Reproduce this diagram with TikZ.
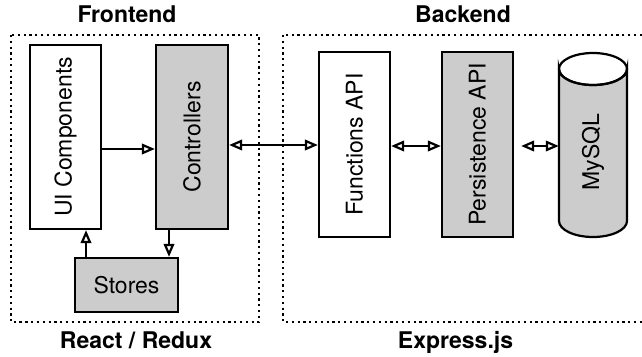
\documentclass[tikz,border=0pt]{standalone}
\usepackage{fontspec}
\usepackage{graphicx}
\setmainfont{TeX Gyre Heros}
\usetikzlibrary{arrows.meta}
\definecolor{boxgray}{HTML}{CCCCCC}
\begin{document}
\begin{tikzpicture}[x=1pt,y=-1pt,
  box/.style={draw, line width=2.2pt, inner sep=0pt, font=\fontsize{23}{27}\selectfont},
  vbox/.style={box, minimum width=71pt, minimum height=184pt},
  grayfill/.style={fill=boxgray},
  frame/.style={line width=2.2pt, dash pattern=on 2.2pt off 3.6pt},
  title/.style={font=\fontsize{23}{27}\selectfont\bfseries, anchor=base, inner sep=0pt},
  arr/.style={line width=2.2pt, -{Triangle[open,length=13pt,width=10.5pt]}},
  dbl/.style={line width=2.2pt, {Triangle[open,length=13pt,width=10.5pt]}-{Triangle[open,length=13pt,width=10.5pt]}}
]
\useasboundingbox (0,0) rectangle (642,356);

% frames
\draw[frame] (10.7,35) rectangle (259,322);
\draw[frame] (283,35) rectangle (680,322);

% titles
\node[title] (tfront) at (127,23) {Frontend};
\node[title] (tredux) at (136,348) {React / Redux};
\node[title] (tback) at (463,23) {Backend};
\node[title] (texpress) at (455.5,348) {Express.js};

% frontend nodes
\node[vbox] (ui) at (65.5,137) {\rotatebox{90}{UI Components}};
\node[vbox, grayfill, minimum width=72pt] (ctrl) at (192,137) {\rotatebox{90}{Controllers}};
\node[box, grayfill, minimum width=103pt, minimum height=54pt] (stores) at (126.5,285) {Stores};

% backend nodes
\node[vbox, minimum height=185pt] (func) at (354.5,144.5) {\rotatebox{90}{Functions API}};
\node[vbox, grayfill, minimum height=185pt] (pers) at (477.5,144.5) {\rotatebox{90}{Persistence API}};

% MySQL cylinder
\filldraw[fill=boxgray, line width=2.2pt]
  (559,69) -- (559,221) arc[start angle=180, end angle=0, x radius=34, y radius=16]
  -- (627,69) arc[start angle=0, end angle=180, x radius=34, y radius=16] -- cycle;
\draw[line width=2.2pt] (593,69) ellipse[x radius=34, y radius=16];
\node[inner sep=0pt, minimum width=68pt, minimum height=150pt, font=\fontsize{23}{27}\selectfont] (mysql) at (593,152) {\rotatebox{90}{MySQL}};

% connectors
\draw[arr] (ui.east |- 0,149) -- (ctrl.west |- 0,149);
\draw[arr] (169,0 |- ctrl.south) -- (169,0 |- stores.north);
\draw[arr] (86,0 |- stores.north) -- (86,0 |- ui.south);
\draw[dbl] (ctrl.east |- 0,145) -- (func.west |- 0,145);
\draw[dbl] (func.east |- 0,146) -- (pers.west |- 0,146);
\draw[dbl] ([xshift=7pt]pers.east |- 0,146) -- (mysql.west |- 0,146);
\end{tikzpicture}
\end{document}
